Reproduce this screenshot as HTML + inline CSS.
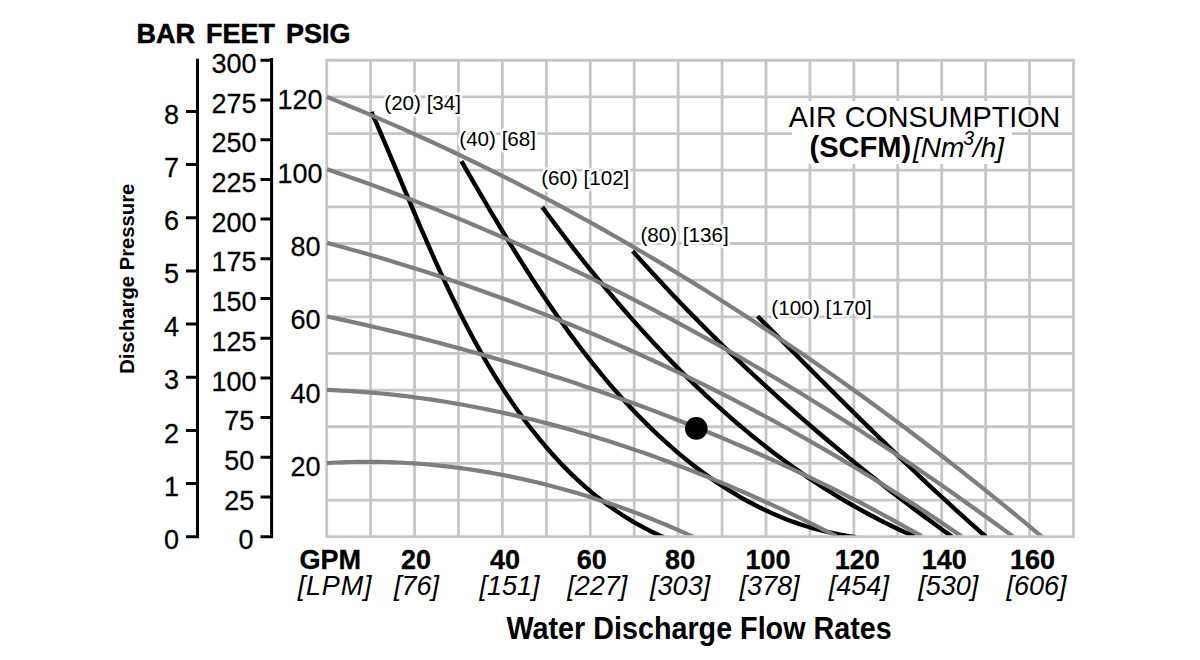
<!DOCTYPE html><html><head><meta charset="utf-8"><style>html,body{margin:0;padding:0;background:#fff;}svg{display:block;font-family:"Liberation Sans",sans-serif;}</style></head><body>
<svg width="1200" height="660" viewBox="0 0 1200 660">
<defs><clipPath id="cp"><rect x="300" y="40" width="800" height="495.2"/></clipPath></defs>
<path d="M326.70,60.30V536.70 M370.63,60.30V536.70 M414.56,60.30V536.70 M458.49,60.30V536.70 M502.42,60.30V536.70 M546.35,60.30V536.70 M590.28,60.30V536.70 M634.21,60.30V536.70 M678.14,60.30V536.70 M722.07,60.30V536.70 M766.00,60.30V536.70 M809.93,60.30V536.70 M853.86,60.30V536.70 M897.79,60.30V536.70 M941.72,60.30V536.70 M985.65,60.30V536.70 M1029.58,60.30V536.70 M1073.51,60.30V536.70 M326.70,536.70H1073.51 M326.70,500.05H1073.51 M326.70,463.40H1073.51 M326.70,426.75H1073.51 M326.70,390.10H1073.51 M326.70,353.45H1073.51 M326.70,316.80H1073.51 M326.70,280.15H1073.51 M326.70,243.50H1073.51 M326.70,206.85H1073.51 M326.70,170.20H1073.51 M326.70,133.55H1073.51 M326.70,96.90H1073.51 M326.70,60.25H1073.51" stroke="#c6c6c6" stroke-width="2.8" fill="none" stroke-linecap="square"/>
<g clip-path="url(#cp)" fill="none" stroke-linecap="butt" stroke-linejoin="round">
<path d="M371.41,111.90 L374.00,117.79 L376.59,123.71 L379.18,129.66 L381.75,135.64 L384.33,141.65 L386.90,147.69 L389.47,153.75 L392.04,159.83 L394.61,165.94 L397.19,172.06 L399.77,178.20 L402.36,184.36 L404.96,190.53 L407.56,196.72 L410.17,202.91 L412.80,209.11 L415.44,215.32 L418.09,221.54 L420.76,227.76 L423.45,233.98 L426.16,240.20 L428.88,246.41 L431.63,252.63 L434.40,258.84 L437.20,265.04 L440.02,271.23 L442.86,277.41 L445.74,283.58 L448.64,289.73 L451.58,295.87 L454.55,301.99 L457.55,308.09 L460.59,314.17 L463.67,320.22 L466.78,326.25 L469.94,332.26 L473.13,338.23 L476.37,344.17 L479.65,350.09 L482.98,355.96 L486.35,361.81 L489.77,367.61 L493.24,373.38 L496.76,379.10 L500.34,384.78 L503.96,390.42 L507.65,396.01 L511.38,401.55 L515.18,407.05 L519.04,412.49 L522.95,417.87 L526.93,423.21 L530.97,428.48 L535.08,433.70 L539.25,438.85 L543.49,443.95 L547.80,448.97 L552.18,453.94 L556.63,458.83 L561.15,463.65 L565.75,468.40 L570.43,473.07 L575.19,477.66 L580.03,482.16 L584.96,486.57 L589.97,490.89 L595.07,495.12 L600.26,499.25 L605.54,503.28 L610.92,507.21 L616.39,511.03 L621.95,514.73 L627.62,518.33 L633.39,521.81 L639.26,525.16 L645.24,528.40 L651.33,531.51 L657.52,534.48 L663.83,537.33" stroke="#000" stroke-width="4.4"/>
<path d="M461.41,161.14 L464.84,167.08 L468.29,173.05 L471.75,179.05 L475.24,185.06 L478.75,191.10 L482.28,197.15 L485.84,203.21 L489.42,209.29 L493.02,215.38 L496.66,221.47 L500.31,227.58 L504.00,233.68 L507.72,239.79 L511.46,245.90 L515.24,252.01 L519.04,258.11 L522.88,264.20 L526.75,270.29 L530.65,276.37 L534.59,282.43 L538.56,288.48 L542.57,294.51 L546.62,300.53 L550.70,306.52 L554.82,312.49 L558.98,318.44 L563.18,324.35 L567.42,330.24 L571.70,336.10 L576.02,341.92 L580.39,347.71 L584.80,353.46 L589.26,359.17 L593.76,364.84 L598.31,370.47 L602.90,376.05 L607.55,381.58 L612.24,387.06 L616.98,392.49 L621.77,397.87 L626.62,403.19 L631.51,408.45 L636.46,413.65 L641.46,418.79 L646.52,423.86 L651.63,428.86 L656.80,433.80 L662.02,438.67 L667.31,443.46 L672.65,448.18 L678.05,452.82 L683.51,457.38 L689.03,461.86 L694.61,466.25 L700.26,470.55 L705.97,474.75 L711.74,478.86 L717.57,482.87 L723.47,486.77 L729.44,490.56 L735.47,494.24 L741.57,497.80 L747.74,501.24 L753.97,504.56 L760.28,507.76 L766.65,510.82 L773.10,513.75 L779.61,516.54 L786.20,519.19 L792.86,521.70 L799.59,524.06 L806.40,526.26 L813.28,528.31 L820.24,530.21 L827.27,531.94 L834.38,533.50 L841.57,534.89 L848.83,536.11 L856.18,537.16" stroke="#000" stroke-width="4.4"/>
<path d="M542.33,207.16 L546.08,212.24 L549.85,217.31 L553.64,222.38 L557.45,227.43 L561.27,232.48 L565.12,237.51 L568.99,242.54 L572.88,247.56 L576.79,252.56 L580.72,257.56 L584.68,262.54 L588.65,267.51 L592.65,272.46 L596.66,277.40 L600.70,282.33 L604.77,287.24 L608.85,292.13 L612.96,297.01 L617.09,301.86 L621.24,306.70 L625.42,311.53 L629.62,316.33 L633.85,321.11 L638.09,325.87 L642.37,330.61 L646.66,335.32 L650.98,340.02 L655.33,344.69 L659.70,349.33 L664.09,353.95 L668.52,358.55 L672.96,363.12 L677.43,367.66 L681.93,372.18 L686.46,376.67 L691.01,381.12 L695.58,385.55 L700.19,389.95 L704.82,394.32 L709.48,398.66 L714.16,402.96 L718.87,407.24 L723.61,411.48 L728.38,415.68 L733.18,419.85 L738.00,423.99 L742.85,428.09 L747.74,432.15 L752.65,436.18 L757.59,440.16 L762.56,444.11 L767.55,448.03 L772.58,451.90 L777.64,455.73 L782.73,459.52 L787.85,463.26 L793.00,466.97 L798.18,470.63 L803.39,474.25 L808.63,477.83 L813.90,481.36 L819.20,484.84 L824.54,488.28 L829.91,491.67 L835.31,495.01 L840.74,498.31 L846.21,501.55 L851.70,504.75 L857.23,507.90 L862.80,510.99 L868.39,514.04 L874.02,517.03 L879.69,519.97 L885.39,522.85 L891.12,525.69 L896.88,528.46 L902.69,531.19 L908.52,533.85 L914.39,536.46" stroke="#000" stroke-width="4.4"/>
<path d="M632.67,251.09 L636.29,255.15 L639.92,259.21 L643.56,263.25 L647.22,267.29 L650.89,271.31 L654.57,275.32 L658.26,279.31 L661.96,283.30 L665.68,287.27 L669.40,291.24 L673.14,295.19 L676.89,299.13 L680.65,303.05 L684.43,306.97 L688.21,310.88 L692.01,314.77 L695.82,318.65 L699.64,322.52 L703.47,326.38 L707.31,330.23 L711.16,334.06 L715.03,337.89 L718.90,341.70 L722.79,345.50 L726.69,349.29 L730.60,353.07 L734.52,356.83 L738.45,360.59 L742.39,364.33 L746.34,368.06 L750.30,371.78 L754.28,375.49 L758.26,379.19 L762.26,382.87 L766.26,386.55 L770.28,390.21 L774.30,393.86 L778.34,397.50 L782.39,401.13 L786.44,404.74 L790.51,408.35 L794.59,411.94 L798.68,415.52 L802.77,419.09 L806.88,422.65 L811.00,426.20 L815.13,429.73 L819.27,433.26 L823.41,436.77 L827.57,440.27 L831.74,443.76 L835.92,447.24 L840.10,450.71 L844.30,454.16 L848.50,457.60 L852.72,461.04 L856.94,464.46 L861.18,467.87 L865.42,471.26 L869.67,474.65 L873.94,478.02 L878.21,481.39 L882.49,484.74 L886.78,488.08 L891.07,491.41 L895.38,494.72 L899.70,498.03 L904.02,501.32 L908.36,504.60 L912.70,507.88 L917.05,511.14 L921.41,514.38 L925.78,517.62 L930.16,520.84 L934.55,524.06 L938.94,527.26 L943.34,530.45 L947.76,533.63 L952.18,536.80" stroke="#000" stroke-width="4.4"/>
<path d="M757.52,316.23 L760.37,319.08 L763.21,321.93 L766.05,324.79 L768.90,327.64 L771.74,330.49 L774.58,333.35 L777.42,336.20 L780.26,339.05 L783.10,341.91 L785.94,344.76 L788.78,347.62 L791.61,350.47 L794.45,353.32 L797.29,356.17 L800.13,359.02 L802.97,361.88 L805.81,364.73 L808.65,367.58 L811.49,370.42 L814.33,373.27 L817.17,376.12 L820.01,378.96 L822.86,381.81 L825.70,384.65 L828.54,387.49 L831.39,390.33 L834.24,393.17 L837.09,396.01 L839.94,398.85 L842.79,401.68 L845.64,404.51 L848.49,407.34 L851.35,410.17 L854.21,413.00 L857.07,415.82 L859.93,418.64 L862.79,421.46 L865.66,424.28 L868.53,427.10 L871.40,429.91 L874.27,432.72 L877.15,435.53 L880.03,438.33 L882.91,441.14 L885.79,443.94 L888.68,446.73 L891.57,449.53 L894.46,452.32 L897.35,455.11 L900.25,457.89 L903.16,460.67 L906.06,463.45 L908.97,466.22 L911.88,468.99 L914.80,471.76 L917.72,474.52 L920.64,477.28 L923.57,480.04 L926.50,482.79 L929.44,485.54 L932.38,488.28 L935.32,491.02 L938.27,493.76 L941.22,496.49 L944.18,499.21 L947.14,501.94 L950.11,504.65 L953.08,507.37 L956.06,510.08 L959.04,512.78 L962.03,515.48 L965.02,518.17 L968.01,520.86 L971.02,523.55 L974.02,526.23 L977.04,528.90 L980.06,531.57 L983.08,534.23 L986.11,536.89" stroke="#000" stroke-width="4.4"/>
<path d="M326.79,96.91 L336.73,100.90 L346.65,104.95 L356.54,109.04 L366.42,113.18 L376.27,117.36 L386.10,121.59 L395.90,125.87 L405.68,130.20 L415.44,134.57 L425.18,138.98 L434.90,143.44 L444.59,147.95 L454.26,152.50 L463.91,157.10 L473.53,161.74 L483.13,166.42 L492.71,171.15 L502.27,175.92 L511.81,180.74 L521.32,185.60 L530.81,190.50 L540.27,195.44 L549.72,200.42 L559.14,205.45 L568.54,210.51 L577.92,215.62 L587.27,220.77 L596.60,225.96 L605.91,231.19 L615.20,236.46 L624.46,241.77 L633.70,247.12 L642.92,252.50 L652.12,257.93 L661.29,263.39 L670.44,268.89 L679.57,274.43 L688.68,280.01 L697.76,285.63 L706.82,291.28 L715.86,296.97 L724.88,302.69 L733.87,308.45 L742.84,314.25 L751.79,320.08 L760.72,325.95 L769.62,331.85 L778.50,337.78 L787.36,343.76 L796.20,349.76 L805.01,355.80 L813.80,361.87 L822.57,367.98 L831.32,374.11 L840.04,380.28 L848.74,386.49 L857.42,392.72 L866.08,398.99 L874.71,405.29 L883.32,411.62 L891.91,417.98 L900.48,424.37 L909.02,430.79 L917.55,437.24 L926.05,443.72 L934.52,450.23 L942.98,456.77 L951.41,463.33 L959.82,469.93 L968.21,476.55 L976.57,483.20 L984.92,489.88 L993.24,496.59 L1001.53,503.32 L1009.81,510.08 L1018.06,516.87 L1026.29,523.68 L1034.50,530.52 L1042.69,537.39" stroke="#7e7e7e" stroke-width="4.2"/>
<path d="M327.10,169.21 L336.47,172.41 L345.83,175.66 L355.16,178.94 L364.48,182.27 L373.79,185.64 L383.07,189.06 L392.34,192.51 L401.60,196.01 L410.83,199.55 L420.05,203.13 L429.25,206.75 L438.44,210.41 L447.61,214.12 L456.76,217.86 L465.89,221.64 L475.01,225.47 L484.11,229.33 L493.19,233.23 L502.26,237.17 L511.31,241.15 L520.34,245.17 L529.35,249.23 L538.34,253.33 L547.32,257.46 L556.28,261.63 L565.23,265.84 L574.15,270.09 L583.06,274.37 L591.95,278.69 L600.82,283.05 L609.68,287.44 L618.51,291.87 L627.33,296.33 L636.14,300.84 L644.92,305.37 L653.68,309.94 L662.43,314.55 L671.16,319.19 L679.87,323.87 L688.56,328.58 L697.24,333.32 L705.90,338.10 L714.53,342.91 L723.15,347.75 L731.76,352.63 L740.34,357.54 L748.90,362.48 L757.45,367.46 L765.98,372.47 L774.49,377.51 L782.98,382.58 L791.45,387.68 L799.90,392.81 L808.34,397.98 L816.76,403.17 L825.15,408.40 L833.53,413.66 L841.89,418.94 L850.23,424.26 L858.55,429.60 L866.86,434.98 L875.14,440.38 L883.40,445.82 L891.65,451.28 L899.88,456.77 L908.08,462.29 L916.27,467.83 L924.44,473.41 L932.59,479.01 L940.72,484.63 L948.83,490.29 L956.92,495.97 L964.99,501.68 L973.04,507.42 L981.08,513.18 L989.09,518.96 L997.08,524.78 L1005.06,530.61 L1013.01,536.48" stroke="#7e7e7e" stroke-width="4.2"/>
<path d="M327.09,242.89 L335.67,245.19 L344.24,247.53 L352.81,249.91 L361.36,252.33 L369.90,254.79 L378.43,257.28 L386.95,259.81 L395.45,262.39 L403.95,264.99 L412.44,267.64 L420.91,270.33 L429.38,273.05 L437.83,275.81 L446.27,278.61 L454.70,281.45 L463.11,284.32 L471.52,287.23 L479.91,290.18 L488.29,293.16 L496.65,296.18 L505.01,299.24 L513.35,302.34 L521.67,305.47 L529.98,308.64 L538.28,311.85 L546.57,315.09 L554.84,318.37 L563.10,321.68 L571.34,325.03 L579.57,328.42 L587.78,331.84 L595.98,335.30 L604.17,338.79 L612.33,342.32 L620.49,345.89 L628.63,349.49 L636.75,353.12 L644.85,356.79 L652.94,360.50 L661.02,364.24 L669.08,368.01 L677.12,371.82 L685.14,375.67 L693.15,379.55 L701.14,383.46 L709.11,387.41 L717.07,391.39 L725.01,395.41 L732.93,399.46 L740.83,403.54 L748.72,407.66 L756.58,411.81 L764.43,416.00 L772.26,420.22 L780.07,424.47 L787.86,428.76 L795.64,433.07 L803.39,437.43 L811.13,441.81 L818.84,446.23 L826.54,450.68 L834.21,455.16 L841.87,459.68 L849.50,464.23 L857.12,468.81 L864.71,473.42 L872.28,478.06 L879.84,482.74 L887.37,487.45 L894.88,492.19 L902.37,496.96 L909.83,501.77 L917.28,506.60 L924.70,511.47 L932.10,516.37 L939.48,521.30 L946.84,526.26 L954.18,531.25 L961.49,536.27" stroke="#7e7e7e" stroke-width="4.2"/>
<path d="M326.99,316.47 L334.86,318.15 L342.72,319.86 L350.58,321.59 L358.44,323.34 L366.29,325.13 L374.14,326.93 L381.98,328.77 L389.82,330.63 L397.65,332.51 L405.48,334.43 L413.30,336.36 L421.11,338.33 L428.92,340.32 L436.72,342.34 L444.52,344.38 L452.31,346.46 L460.09,348.56 L467.87,350.68 L475.63,352.84 L483.39,355.02 L491.15,357.23 L498.89,359.46 L506.63,361.72 L514.36,364.02 L522.08,366.34 L529.79,368.68 L537.50,371.06 L545.19,373.46 L552.88,375.89 L560.56,378.36 L568.22,380.85 L575.88,383.36 L583.53,385.91 L591.17,388.49 L598.79,391.09 L606.41,393.72 L614.02,396.39 L621.62,399.08 L629.20,401.80 L636.78,404.56 L644.34,407.34 L651.89,410.15 L659.43,412.99 L666.96,415.86 L674.47,418.76 L681.98,421.70 L689.47,424.66 L696.95,427.65 L704.42,430.67 L711.87,433.73 L719.31,436.81 L726.74,439.93 L734.15,443.08 L741.55,446.26 L748.94,449.47 L756.31,452.71 L763.67,455.98 L771.01,459.28 L778.34,462.62 L785.66,465.99 L792.96,469.39 L800.24,472.82 L807.51,476.29 L814.77,479.78 L822.00,483.31 L829.23,486.87 L836.43,490.47 L843.62,494.10 L850.80,497.76 L857.96,501.45 L865.10,505.18 L872.22,508.94 L879.33,512.73 L886.41,516.55 L893.49,520.41 L900.54,524.31 L907.58,528.24 L914.59,532.20 L921.59,536.19" stroke="#7e7e7e" stroke-width="4.2"/>
<path d="M327.00,389.93 L333.78,390.21 L340.56,390.54 L347.33,390.91 L354.10,391.34 L360.86,391.81 L367.62,392.33 L374.37,392.90 L381.11,393.52 L387.85,394.19 L394.57,394.90 L401.30,395.66 L408.01,396.46 L414.72,397.32 L421.43,398.21 L428.12,399.16 L434.81,400.14 L441.49,401.17 L448.17,402.25 L454.83,403.37 L461.49,404.53 L468.14,405.73 L474.79,406.98 L481.42,408.27 L488.05,409.60 L494.67,410.98 L501.28,412.39 L507.88,413.84 L514.47,415.34 L521.06,416.87 L527.63,418.45 L534.20,420.06 L540.76,421.71 L547.31,423.40 L553.84,425.13 L560.37,426.90 L566.89,428.70 L573.40,430.54 L579.90,432.41 L586.39,434.33 L592.87,436.27 L599.34,438.26 L605.80,440.28 L612.25,442.33 L618.69,444.42 L625.12,446.54 L631.54,448.69 L637.94,450.88 L644.34,453.10 L650.72,455.35 L657.09,457.64 L663.46,459.95 L669.81,462.30 L676.14,464.68 L682.47,467.09 L688.78,469.53 L695.09,472.00 L701.38,474.49 L707.65,477.02 L713.92,479.58 L720.17,482.16 L726.41,484.77 L732.64,487.41 L738.86,490.08 L745.06,492.77 L751.25,495.49 L757.42,498.23 L763.58,501.00 L769.73,503.80 L775.87,506.62 L781.99,509.46 L788.09,512.33 L794.19,515.23 L800.27,518.14 L806.33,521.08 L812.38,524.04 L818.42,527.03 L824.44,530.03 L830.45,533.06 L836.44,536.11" stroke="#7e7e7e" stroke-width="4.2"/>
<path d="M326.95,463.03 L331.73,462.76 L336.52,462.52 L341.30,462.31 L346.09,462.14 L350.87,462.00 L355.65,461.90 L360.44,461.83 L365.22,461.80 L370.00,461.80 L374.78,461.83 L379.56,461.90 L384.34,462.01 L389.11,462.14 L393.88,462.31 L398.66,462.51 L403.43,462.75 L408.19,463.01 L412.96,463.32 L417.72,463.65 L422.48,464.01 L427.24,464.41 L431.99,464.84 L436.74,465.30 L441.49,465.79 L446.23,466.32 L450.97,466.87 L455.71,467.46 L460.44,468.08 L465.17,468.73 L469.89,469.41 L474.61,470.12 L479.33,470.86 L484.04,471.63 L488.75,472.43 L493.45,473.26 L498.14,474.12 L502.84,475.00 L507.52,475.92 L512.20,476.87 L516.87,477.85 L521.54,478.85 L526.21,479.89 L530.86,480.95 L535.51,482.04 L540.16,483.16 L544.79,484.31 L549.42,485.48 L554.05,486.68 L558.66,487.91 L563.27,489.17 L567.87,490.45 L572.47,491.77 L577.05,493.10 L581.63,494.47 L586.20,495.86 L590.77,497.28 L595.32,498.72 L599.87,500.19 L604.41,501.69 L608.93,503.21 L613.45,504.76 L617.97,506.33 L622.47,507.93 L626.96,509.55 L631.44,511.20 L635.92,512.87 L640.38,514.57 L644.84,516.29 L649.28,518.03 L653.71,519.80 L658.14,521.60 L662.55,523.41 L666.95,525.25 L671.35,527.12 L675.73,529.01 L680.10,530.92 L684.45,532.85 L688.80,534.80 L693.14,536.78" stroke="#7e7e7e" stroke-width="4.2"/>
</g>
<circle cx="696.3" cy="428.4" r="11.3" fill="#000"/>
<g stroke="#000" stroke-width="3" fill="none">
<path d="M197.5,58.8V538.20 M186,536.70H199 M186,483.54H199 M186,430.39H199 M186,377.23H199 M186,324.07H199 M186,270.92H199 M186,217.76H199 M186,164.61H199 M186,111.45H199"/>
<path d="M271.6,58V538.20 M260.5,536.70H273 M260.5,497.00H273 M260.5,457.30H273 M260.5,417.60H273 M260.5,377.90H273 M260.5,338.20H273 M260.5,298.50H273 M260.5,258.80H273 M260.5,219.10H273 M260.5,179.40H273 M260.5,139.70H273 M260.5,100.00H273 M260.5,60.30H273"/>
</g>
<g fill="#000">
<text transform="translate(136.5,43.2) scale(1,1.035)" font-size="27" font-weight="bold" font-style="normal" text-anchor="start" stroke="#000" stroke-width="0.5">BAR</text>
<text transform="translate(206,43.2) scale(1,1.035)" font-size="27" font-weight="bold" font-style="normal" text-anchor="start" stroke="#000" stroke-width="0.5">FEET</text>
<text transform="translate(286,43.2) scale(1,1.035)" font-size="27" font-weight="bold" font-style="normal" text-anchor="start" stroke="#000" stroke-width="0.5">PSIG</text>
<text transform="translate(179,548.9) scale(1,1.04)" font-size="27" font-weight="normal" font-style="normal" text-anchor="end" stroke="#000" stroke-width="0.25">0</text>
<text transform="translate(179,495.74) scale(1,1.04)" font-size="27" font-weight="normal" font-style="normal" text-anchor="end" stroke="#000" stroke-width="0.25">1</text>
<text transform="translate(179,442.59) scale(1,1.04)" font-size="27" font-weight="normal" font-style="normal" text-anchor="end" stroke="#000" stroke-width="0.25">2</text>
<text transform="translate(179,389.43) scale(1,1.04)" font-size="27" font-weight="normal" font-style="normal" text-anchor="end" stroke="#000" stroke-width="0.25">3</text>
<text transform="translate(179,336.27) scale(1,1.04)" font-size="27" font-weight="normal" font-style="normal" text-anchor="end" stroke="#000" stroke-width="0.25">4</text>
<text transform="translate(179,283.12) scale(1,1.04)" font-size="27" font-weight="normal" font-style="normal" text-anchor="end" stroke="#000" stroke-width="0.25">5</text>
<text transform="translate(179,229.96) scale(1,1.04)" font-size="27" font-weight="normal" font-style="normal" text-anchor="end" stroke="#000" stroke-width="0.25">6</text>
<text transform="translate(179,176.81) scale(1,1.04)" font-size="27" font-weight="normal" font-style="normal" text-anchor="end" stroke="#000" stroke-width="0.25">7</text>
<text transform="translate(179,123.65) scale(1,1.04)" font-size="27" font-weight="normal" font-style="normal" text-anchor="end" stroke="#000" stroke-width="0.25">8</text>
<text transform="translate(253.5,549.3) scale(1,1.04)" font-size="27" font-weight="normal" font-style="normal" text-anchor="end" stroke="#000" stroke-width="0.25">0</text>
<text transform="translate(254.3,509.6) scale(1,1.04)" font-size="27" font-weight="normal" font-style="normal" text-anchor="end" stroke="#000" stroke-width="0.25">25</text>
<text transform="translate(254.3,469.9) scale(1,1.04)" font-size="27" font-weight="normal" font-style="normal" text-anchor="end" stroke="#000" stroke-width="0.25">50</text>
<text transform="translate(254.3,430.2) scale(1,1.04)" font-size="27" font-weight="normal" font-style="normal" text-anchor="end" stroke="#000" stroke-width="0.25">75</text>
<text transform="translate(256.5,390.5) scale(1,1.04)" font-size="27" font-weight="normal" font-style="normal" text-anchor="end" stroke="#000" stroke-width="0.25">100</text>
<text transform="translate(256.5,350.8) scale(1,1.04)" font-size="27" font-weight="normal" font-style="normal" text-anchor="end" stroke="#000" stroke-width="0.25">125</text>
<text transform="translate(256.5,311.1) scale(1,1.04)" font-size="27" font-weight="normal" font-style="normal" text-anchor="end" stroke="#000" stroke-width="0.25">150</text>
<text transform="translate(256.5,271.4) scale(1,1.04)" font-size="27" font-weight="normal" font-style="normal" text-anchor="end" stroke="#000" stroke-width="0.25">175</text>
<text transform="translate(256.5,231.7) scale(1,1.04)" font-size="27" font-weight="normal" font-style="normal" text-anchor="end" stroke="#000" stroke-width="0.25">200</text>
<text transform="translate(256.5,192.0) scale(1,1.04)" font-size="27" font-weight="normal" font-style="normal" text-anchor="end" stroke="#000" stroke-width="0.25">225</text>
<text transform="translate(256.5,152.3) scale(1,1.04)" font-size="27" font-weight="normal" font-style="normal" text-anchor="end" stroke="#000" stroke-width="0.25">250</text>
<text transform="translate(256.5,112.6) scale(1,1.04)" font-size="27" font-weight="normal" font-style="normal" text-anchor="end" stroke="#000" stroke-width="0.25">275</text>
<text transform="translate(256.5,72.9) scale(1,1.04)" font-size="27" font-weight="normal" font-style="normal" text-anchor="end" stroke="#000" stroke-width="0.25">300</text>
<text transform="translate(320.5,475.8) scale(1,1.04)" font-size="27" font-weight="normal" font-style="normal" text-anchor="end" stroke="#000" stroke-width="0.25">20</text>
<text transform="translate(320.5,402.5) scale(1,1.04)" font-size="27" font-weight="normal" font-style="normal" text-anchor="end" stroke="#000" stroke-width="0.25">40</text>
<text transform="translate(320.5,329.2) scale(1,1.04)" font-size="27" font-weight="normal" font-style="normal" text-anchor="end" stroke="#000" stroke-width="0.25">60</text>
<text transform="translate(320.5,255.9) scale(1,1.04)" font-size="27" font-weight="normal" font-style="normal" text-anchor="end" stroke="#000" stroke-width="0.25">80</text>
<text transform="translate(322.5,182.6) scale(1,1.04)" font-size="27" font-weight="normal" font-style="normal" text-anchor="end" stroke="#000" stroke-width="0.25">100</text>
<text transform="translate(322.5,109.3) scale(1,1.04)" font-size="27" font-weight="normal" font-style="normal" text-anchor="end" stroke="#000" stroke-width="0.25">120</text>
<text x="330.2" y="568.7" font-size="27" font-weight="bold" font-style="normal" text-anchor="middle" stroke="#000" stroke-width="0.3">GPM</text>
<text x="335" y="595.3" font-size="27" font-weight="normal" font-style="italic" text-anchor="middle" letter-spacing="0.8">[LPM]</text>
<text x="416.06" y="568.7" font-size="27" font-weight="bold" font-style="normal" text-anchor="middle" stroke="#000" stroke-width="0.3">20</text>
<text x="416.56" y="595.3" font-size="27" font-weight="normal" font-style="italic" text-anchor="middle" >[76]</text>
<text x="504.92" y="568.7" font-size="27" font-weight="bold" font-style="normal" text-anchor="middle" stroke="#000" stroke-width="0.3">40</text>
<text x="509.42" y="595.3" font-size="27" font-weight="normal" font-style="italic" text-anchor="middle" >[151]</text>
<text x="591.78" y="568.7" font-size="27" font-weight="bold" font-style="normal" text-anchor="middle" stroke="#000" stroke-width="0.3">60</text>
<text x="597.28" y="595.3" font-size="27" font-weight="normal" font-style="italic" text-anchor="middle" >[227]</text>
<text x="680.14" y="568.7" font-size="27" font-weight="bold" font-style="normal" text-anchor="middle" stroke="#000" stroke-width="0.3">80</text>
<text x="680.14" y="595.3" font-size="27" font-weight="normal" font-style="italic" text-anchor="middle" >[303]</text>
<text x="768.0" y="568.7" font-size="27" font-weight="bold" font-style="normal" text-anchor="middle" stroke="#000" stroke-width="0.3">100</text>
<text x="769.5" y="595.3" font-size="27" font-weight="normal" font-style="italic" text-anchor="middle" >[378]</text>
<text x="857.36" y="568.7" font-size="27" font-weight="bold" font-style="normal" text-anchor="middle" stroke="#000" stroke-width="0.3">120</text>
<text x="858.86" y="595.3" font-size="27" font-weight="normal" font-style="italic" text-anchor="middle" >[454]</text>
<text x="944.22" y="568.7" font-size="27" font-weight="bold" font-style="normal" text-anchor="middle" stroke="#000" stroke-width="0.3">140</text>
<text x="948.22" y="595.3" font-size="27" font-weight="normal" font-style="italic" text-anchor="middle" >[530]</text>
<text x="1032.58" y="568.7" font-size="27" font-weight="bold" font-style="normal" text-anchor="middle" stroke="#000" stroke-width="0.3">160</text>
<text x="1036.58" y="595.3" font-size="27" font-weight="normal" font-style="italic" text-anchor="middle" >[606]</text>
<text transform="translate(506.5,638.75) scale(1,1.065)" font-size="28.74" font-weight="bold" font-style="normal" text-anchor="start" >Water Discharge Flow Rates</text>
<text transform="translate(134.2,373.8) rotate(-90) scale(1,1.03)" x="0" y="0" font-size="20.25" font-weight="bold">Discharge Pressure</text>
<text x="384.3" y="109.5" font-size="20.6" font-weight="normal" font-style="normal" text-anchor="start" stroke="#fff" stroke-width="5" stroke-linejoin="round" paint-order="stroke">(20) [34]</text>
<text x="459.3" y="145.8" font-size="20.6" font-weight="normal" font-style="normal" text-anchor="start" stroke="#fff" stroke-width="5" stroke-linejoin="round" paint-order="stroke">(40) [68]</text>
<text x="541.2" y="185.2" font-size="20.6" font-weight="normal" font-style="normal" text-anchor="start" stroke="#fff" stroke-width="5" stroke-linejoin="round" paint-order="stroke">(60) [102]</text>
<text x="640.5" y="242.3" font-size="20.6" font-weight="normal" font-style="normal" text-anchor="start" stroke="#fff" stroke-width="5" stroke-linejoin="round" paint-order="stroke">(80) [136]</text>
<text x="771.3" y="315.3" font-size="20.8" font-weight="normal" font-style="normal" text-anchor="start" stroke="#fff" stroke-width="5" stroke-linejoin="round" paint-order="stroke">(100) [170]</text>
<rect x="792" y="101" width="220" height="63" fill="#fff"/>
<text transform="translate(788.8,127.4) scale(1,1.04)" font-size="28.76" font-weight="normal" font-style="normal" text-anchor="start" stroke="#fff" stroke-width="3" paint-order="stroke">AIR CONSUMPTION</text>
<text transform="translate(809.5,156.5) scale(1,1.04)" font-size="29.1" font-weight="bold" font-style="normal" text-anchor="start" stroke="#fff" stroke-width="3" paint-order="stroke">(SCFM)</text>
<text x="913.0" y="156.5" font-size="28" font-weight="normal" font-style="italic" text-anchor="start" stroke="#fff" stroke-width="3" paint-order="stroke">[Nm</text>
<text transform="translate(963.2,144.6) scale(1,1.08)" font-size="19.5" font-weight="normal" font-style="italic" text-anchor="start" stroke="#fff" stroke-width="3" paint-order="stroke">3</text>
<text x="973.0" y="156.5" font-size="28" font-weight="normal" font-style="italic" text-anchor="start" stroke="#fff" stroke-width="3" paint-order="stroke">/h]</text>
</g>
</svg></body></html>
